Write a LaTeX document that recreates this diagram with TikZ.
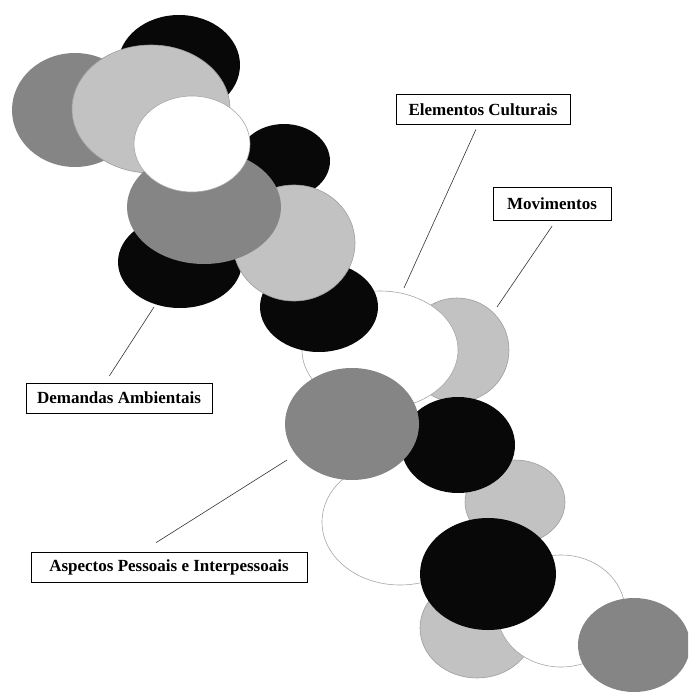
\documentclass[tikz,border=0pt]{standalone}
\usepackage{fontspec}
\setmainfont{Liberation Serif}
\begin{document}
\begin{tikzpicture}[x=1pt, y=-1pt,
    blob black/.style={fill=black!97},
    blob dark/.style={fill=black!48},
    blob light/.style={fill=black!24, draw=black!38, line width=0.6pt},
    blob white/.style={fill=white, draw=black!35, line width=0.6pt},
    tag/.style={draw, line width=0.7pt, fill=white, inner xsep=4pt, minimum height=30pt,
        font=\fontsize{17}{19}\selectfont\bfseries},
    pointer/.style={line width=0.6pt, black!80}]
    % Page frame
    \useasboundingbox (0,0) rectangle (688,693);
    \clip (0,0) rectangle (688,693);

    % Upper chain of circles
    \fill[blob black] (179,65) ellipse [x radius=61, y radius=50];
    \fill[blob dark] (75,110) ellipse [x radius=63, y radius=57];
    \filldraw[blob light] (151,109) ellipse [x radius=79, y radius=64];
    \fill[blob black] (284,161) ellipse [x radius=46, y radius=37];
    \fill[blob black] (180,262) ellipse [x radius=62, y radius=46];
    \filldraw[blob light] (457,350) ellipse [x radius=52, y radius=52];
    \filldraw[blob white] (380,350) ellipse [x radius=78, y radius=59];
    \fill[blob black] (319,307) ellipse [x radius=59, y radius=45];
    \filldraw[blob light] (294,243) ellipse [x radius=61, y radius=58];
    \fill[blob dark] (204,207) ellipse [x radius=77, y radius=57];
    \filldraw[blob white] (192,144) ellipse [x radius=58, y radius=48];

    % Lower chain of circles
    \filldraw[blob white] (400,522) ellipse [x radius=78, y radius=63];
    \filldraw[blob light] (515,502) ellipse [x radius=50, y radius=42];
    \fill[blob black] (458,445) ellipse [x radius=57, y radius=48];
    \fill[blob dark] (352,424) ellipse [x radius=67, y radius=56];
    \filldraw[blob light] (477,628) ellipse [x radius=57, y radius=50];
    \filldraw[blob white] (561,611) ellipse [x radius=64, y radius=56];
    \fill[blob black] (488,574) ellipse [x radius=68, y radius=56];
    \fill[blob dark] (634,645) ellipse [x radius=56, y radius=47];

    % Labels
    \node[tag, minimum width=174pt] (elem) at (483,109.5) {Elementos Culturais};
    \node[tag, minimum width=118pt, minimum height=33pt] (mov) at (552,203.5) {Movimentos};
    \node[tag, minimum width=186pt] (dem) at (119,398) {Demandas Ambientais};
    \node[tag, minimum width=276pt] (asp) at (169,567.5) {Aspectos Pessoais e Interpessoais};

    % Pointer ends on the circles
    \coordinate (elemTip) at (404,288);
    \coordinate (movTip) at (497,307);
    \coordinate (demTip) at (154,307);
    \coordinate (aspTip) at (287,460);

    % Pointers
    \draw[pointer, shorten <=5pt] ([xshift=-5pt]elem.south) -- (elemTip);
    \draw[pointer, shorten <=7pt] ([xshift=4pt]mov.south) -- (movTip);
    \draw[pointer, shorten <=8pt] ([xshift=-14pt]dem.north) -- (demTip);
    \draw[pointer, shorten <=18pt] ([xshift=-28pt]asp.north) -- (aspTip);
\end{tikzpicture}
\end{document}
